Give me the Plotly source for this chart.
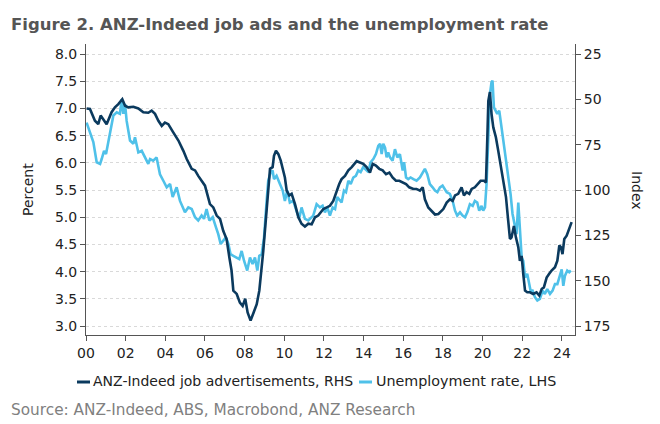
import plotly.graph_objects as go

# ---------------- data ----------------
ads_year = [2000.03, 2000.20, 2000.45, 2000.62, 2000.74, 2000.87, 2001.04, 2001.29, 2001.46, 2001.63,
            2001.83, 2001.97, 2002.13, 2002.39, 2002.64, 2002.89, 2003.14, 2003.31, 2003.48, 2003.65,
            2003.82, 2003.98, 2004.15, 2004.40, 2004.66, 2004.91, 2005.08, 2005.33, 2005.50, 2005.66,
            2005.83, 2006.00, 2006.25, 2006.42, 2006.59, 2006.76, 2006.92, 2007.09, 2007.23, 2007.34,
            2007.43, 2007.60, 2007.76, 2007.90, 2008.03, 2008.15, 2008.30, 2008.44, 2008.61, 2008.74,
            2008.86, 2008.94, 2009.08, 2009.19, 2009.28, 2009.41, 2009.48, 2009.58, 2009.70, 2009.82,
            2009.95, 2010.03, 2010.12, 2010.25, 2010.37, 2010.54, 2010.71, 2010.87, 2011.04, 2011.21,
            2011.38, 2011.55, 2011.71, 2011.97, 2012.14, 2012.30, 2012.47, 2012.64, 2012.77, 2012.89,
            2013.06, 2013.23, 2013.40, 2013.65, 2013.82, 2013.98, 2014.15, 2014.32, 2014.46, 2014.62,
            2014.79, 2014.96, 2015.13, 2015.30, 2015.46, 2015.63, 2015.80, 2015.97, 2016.14, 2016.30,
            2016.51, 2016.67, 2016.84, 2016.98, 2017.09, 2017.26, 2017.43, 2017.60, 2017.77, 2018.02,
            2018.19, 2018.35, 2018.49, 2018.61, 2018.77, 2018.94, 2019.06, 2019.19, 2019.33, 2019.45,
            2019.61, 2019.78, 2019.90, 2020.07, 2020.17, 2020.24, 2020.29, 2020.37, 2020.45, 2020.54,
            2020.67, 2020.79, 2020.91, 2021.04, 2021.18, 2021.29, 2021.38, 2021.46, 2021.58, 2021.68,
            2021.80, 2021.88, 2021.97, 2022.05, 2022.14, 2022.25, 2022.39, 2022.55, 2022.72, 2022.86,
            2022.98, 2023.09, 2023.23, 2023.36, 2023.48, 2023.65, 2023.77, 2023.87, 2023.95, 2024.03,
            2024.12, 2024.24, 2024.37, 2024.49]
ads_index = [55.0, 55.3, 61.8, 63.7, 58.9, 61.3, 63.7, 57.1, 54.4, 52.6,
             49.9, 53.5, 54.4, 54.1, 55.0, 57.1, 57.4, 56.2, 58.0, 61.8,
             64.6, 62.8, 63.7, 68.2, 72.7, 78.4, 82.9, 88.3, 89.2, 92.2,
             94.9, 97.6, 107.8, 109.6, 114.1, 115.9, 122.5, 127.0, 137.2, 144.4,
             155.5, 157.3, 162.1, 163.9, 160.0, 167.5, 172.0, 168.4, 163.0, 155.5,
             144.4, 133.6, 115.0, 98.5, 88.3, 87.4, 81.1, 78.4, 80.2, 83.8,
             89.2, 93.1, 100.3, 103.0, 102.1, 107.8, 115.0, 118.6, 120.1, 118.6,
             118.9, 115.0, 114.1, 110.5, 109.6, 108.7, 106.0, 100.3, 96.7, 94.0,
             92.2, 89.2, 87.4, 84.1, 84.7, 85.6, 87.4, 90.4, 85.6, 86.5,
             88.3, 89.2, 91.3, 90.4, 93.1, 94.9, 94.9, 95.8, 96.7, 98.5,
             99.4, 99.4, 100.3, 98.5, 105.1, 109.6, 111.4, 113.5, 113.2, 110.5,
             106.9, 105.1, 106.0, 103.0, 102.1, 98.5, 103.0, 101.2, 102.1, 99.4,
             98.5, 96.7, 94.9, 94.9, 95.8, 70.9, 50.8, 46.0, 58.0, 65.5,
             70.9, 78.4, 85.6, 94.9, 103.9, 116.8, 127.0, 126.1, 119.8, 126.1,
             131.5, 139.0, 136.3, 146.2, 155.5, 156.4, 156.4, 157.3, 156.4, 158.2,
             154.6, 153.7, 148.3, 146.2, 144.4, 142.6, 139.0, 130.6, 131.5, 135.4,
             127.0, 125.2, 121.6, 117.7]

unemp_year = [2000.03, 2000.20, 2000.37, 2000.54, 2000.71, 2000.79, 2000.91, 2001.01, 2001.13, 2001.29,
              2001.38, 2001.55, 2001.71, 2001.80, 2001.88, 2001.97, 2002.05, 2002.22, 2002.39, 2002.47,
              2002.64, 2002.81, 2002.97, 2003.14, 2003.23, 2003.39, 2003.56, 2003.73, 2003.90, 2004.07,
              2004.24, 2004.37, 2004.57, 2004.74, 2004.99, 2005.16, 2005.33, 2005.50, 2005.66, 2005.83,
              2005.95, 2006.08, 2006.22, 2006.39, 2006.56, 2006.67, 2006.79, 2006.92, 2007.06, 2007.18,
              2007.29, 2007.43, 2007.60, 2007.73, 2007.85, 2007.97, 2008.13, 2008.27, 2008.40, 2008.52,
              2008.64, 2008.74, 2008.86, 2008.98, 2009.11, 2009.19, 2009.31, 2009.41, 2009.48, 2009.61,
              2009.78, 2009.92, 2010.03, 2010.15, 2010.28, 2010.45, 2010.61, 2010.75, 2010.87, 2011.04,
              2011.21, 2011.46, 2011.63, 2011.80, 2011.93, 2012.05, 2012.17, 2012.30, 2012.44, 2012.56,
              2012.67, 2012.81, 2012.89, 2013.01, 2013.11, 2013.23, 2013.35, 2013.48, 2013.61, 2013.73,
              2013.85, 2013.98, 2014.12, 2014.24, 2014.35, 2014.49, 2014.62, 2014.74, 2014.83, 2014.91,
              2014.99, 2015.08, 2015.16, 2015.24, 2015.33, 2015.46, 2015.58, 2015.70, 2015.83, 2015.97,
              2016.04, 2016.14, 2016.25, 2016.37, 2016.51, 2016.67, 2016.84, 2016.98, 2017.09, 2017.21,
              2017.34, 2017.48, 2017.60, 2017.72, 2017.85, 2017.98, 2018.10, 2018.19, 2018.35, 2018.49,
              2018.61, 2018.72, 2018.86, 2018.99, 2019.11, 2019.23, 2019.36, 2019.50, 2019.61, 2019.73,
              2019.83, 2019.95, 2020.03, 2020.12, 2020.20, 2020.29, 2020.37, 2020.45, 2020.50, 2020.57,
              2020.67, 2020.74, 2020.84, 2020.96, 2021.08, 2021.18, 2021.29, 2021.41, 2021.51, 2021.63,
              2021.71, 2021.80, 2021.88, 2021.97, 2022.05, 2022.14, 2022.25, 2022.35, 2022.42, 2022.52,
              2022.64, 2022.76, 2022.89, 2023.03, 2023.14, 2023.26, 2023.40, 2023.53, 2023.65, 2023.77,
              2023.87, 2023.99, 2024.07, 2024.15, 2024.27, 2024.37, 2024.45]
unemp_rate = [6.74, 6.56, 6.38, 6.01, 5.98, 6.07, 6.22, 6.16, 6.41, 6.68,
              6.87, 6.93, 6.90, 7.17, 6.90, 7.08, 6.77, 6.41, 6.35, 6.47,
              6.19, 6.22, 6.10, 5.98, 6.07, 6.04, 6.10, 5.79, 5.67, 5.55,
              5.61, 5.37, 5.55, 5.30, 5.09, 5.18, 5.15, 5.00, 4.94, 5.03,
              4.97, 5.15, 4.94, 5.00, 4.81, 4.69, 4.51, 4.57, 4.63, 4.51,
              4.32, 4.29, 4.26, 4.23, 4.38, 4.20, 4.02, 4.26, 4.14, 4.26,
              4.02, 4.29, 4.32, 4.63, 5.30, 5.67, 5.82, 5.86, 5.70, 5.76,
              5.61, 5.49, 5.30, 5.49, 5.27, 5.30, 5.12, 4.97, 5.18, 4.97,
              4.94, 5.03, 5.24, 5.18, 5.21, 5.09, 5.18, 5.03, 5.18, 5.15,
              5.37, 5.30, 5.27, 5.49, 5.46, 5.67, 5.61, 5.73, 5.76, 5.86,
              5.83, 5.92, 5.86, 5.83, 6.01, 6.07, 6.16, 6.31, 6.35, 6.16,
              6.35, 6.28, 6.10, 6.19, 6.10, 6.04, 6.25, 6.10, 6.16, 5.86,
              6.01, 5.73, 5.70, 5.73, 5.70, 5.67, 5.73, 5.83, 5.89, 5.79,
              5.61, 5.55, 5.49, 5.46, 5.55, 5.58, 5.52, 5.46, 5.43, 5.30,
              5.12, 5.03, 5.09, 5.03, 5.00, 5.09, 5.24, 5.21, 5.30, 5.27,
              5.12, 5.21, 5.12, 5.18, 5.61, 6.65, 7.26, 7.48, 7.51, 7.02,
              6.96, 6.90, 6.96, 6.65, 6.35, 6.10, 5.79, 5.43, 5.06, 4.84,
              4.69, 5.27, 4.69, 4.26, 4.20, 3.89, 3.96, 3.77, 3.65, 3.65,
              3.53, 3.47, 3.50, 3.65, 3.59, 3.68, 3.59, 3.65, 3.77, 3.77,
              3.89, 4.04, 3.74, 3.92, 4.02, 3.99, 4.02]

x_tick_vals = [2000, 2002, 2004, 2006, 2008, 2010, 2012, 2014, 2016, 2018, 2020, 2022, 2024]
x_tick_labels = ["00", "02", "04", "06", "08", "10", "12", "14", "16", "18", "20", "22", "24"]
left_ticks = [3.0, 3.5, 4.0, 4.5, 5.0, 5.5, 6.0, 6.5, 7.0, 7.5, 8.0]
right_ticks = [25, 50, 75, 100, 125, 150, 175]

title_text = "Figure 2. ANZ-Indeed job ads and the unemployment rate"
source_text = "Source: ANZ-Indeed, ABS, Macrobond, ANZ Research"
ads_name = "ANZ-Indeed job advertisements, RHS"
unemp_name = "Unemployment rate, LHS"

# ---------------- styling ----------------
DARK = "#0B3A5E"
LIGHT = "#4FC1E9"
FONT = "DejaVu Sans"
W, H = 660, 424
ML, MR, MT, MB = 86, 85, 44, 89
PW, PH = W - ML - MR, H - MT - MB


def px(xp):
    return (xp - ML) / PW


def py(yp):
    return (H - MB - yp) / PH


fig = go.Figure()
fig.add_trace(go.Scatter(x=unemp_year, y=unemp_rate, mode="lines", name=unemp_name,
                         line=dict(color=LIGHT, width=2.6), yaxis="y"))
fig.add_trace(go.Scatter(x=ads_year, y=ads_index, mode="lines", name=ads_name,
                         line=dict(color=DARK, width=2.6), yaxis="y2"))

axis_common = dict(showline=True, linecolor="#555555", linewidth=1, ticks="outside", ticklen=5,
                   tickcolor="#555555", tickfont=dict(family=FONT, size=14, color="#222222"),
                   zeroline=False)

fig.update_layout(
    width=W, height=H,
    margin=dict(l=ML, r=MR, t=MT, b=MB, pad=0),
    paper_bgcolor="white", plot_bgcolor="white",
    showlegend=False,
    xaxis=dict(range=[2000, 2024.66], tickvals=x_tick_vals, ticktext=x_tick_labels,
               showgrid=False, **axis_common),
    yaxis=dict(range=[2.835, 8.184], tickvals=left_ticks, tickformat=".1f",
               showgrid=True, gridcolor="#d9d9d9", griddash="dot", gridwidth=1, **axis_common),
    yaxis2=dict(range=[179.95, 19.48], tickvals=right_ticks, overlaying="y", side="right",
                showgrid=False, **axis_common),
)

ann = []
ann.append(dict(text="<b>" + title_text + "</b>", x=px(9), y=py(24), xref="paper", yref="paper",
                xanchor="left", yanchor="middle", showarrow=False,
                font=dict(family=FONT, size=16.5, color="#555555")))
ann.append(dict(text="Percent", x=px(28), y=py(190), xref="paper", yref="paper", textangle=-90,
                xanchor="center", yanchor="middle", showarrow=False,
                font=dict(family=FONT, size=14, color="#222222")))
ann.append(dict(text="Index", x=px(637), y=py(190), xref="paper", yref="paper", textangle=90,
                xanchor="center", yanchor="middle", showarrow=False,
                font=dict(family=FONT, size=14, color="#222222")))
ann.append(dict(text=source_text, x=px(9), y=py(410), xref="paper", yref="paper",
                xanchor="left", yanchor="middle", showarrow=False,
                font=dict(family=FONT, size=15.3, color="#808080")))
# legend
leg_y = 381
ann.append(dict(text=ads_name, x=px(91), y=py(leg_y), xref="paper", yref="paper",
                xanchor="left", yanchor="middle", showarrow=False,
                font=dict(family=FONT, size=14, color="#222222")))
ann.append(dict(text=unemp_name, x=px(374), y=py(leg_y), xref="paper", yref="paper",
                xanchor="left", yanchor="middle", showarrow=False,
                font=dict(family=FONT, size=14.3, color="#222222")))
fig.update_layout(annotations=ann)

shapes = [
    dict(type="line", xref="paper", yref="paper", x0=px(77), x1=px(90), y0=py(leg_y + 1), y1=py(leg_y + 1),
         line=dict(color=DARK, width=3)),
    dict(type="line", xref="paper", yref="paper", x0=px(359), x1=px(372), y0=py(leg_y + 1), y1=py(leg_y + 1),
         line=dict(color=LIGHT, width=3)),
]
fig.update_layout(shapes=shapes)

fig.write_html("out.html")
